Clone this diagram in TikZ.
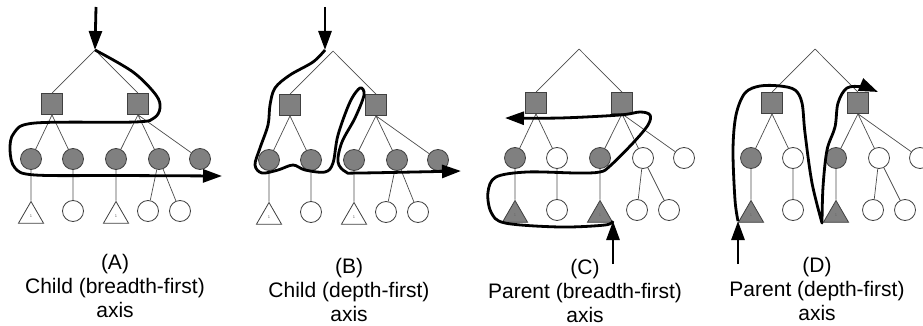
\documentclass[tikz,border=0pt]{standalone}
\usepackage{fontspec}
\setmainfont{Liberation Sans}
\usetikzlibrary{arrows.meta,shapes.geometric}

\tikzset{
  sq/.style={rectangle, draw=black!75, line width=0.8pt, fill=black!50, minimum size=21pt, inner sep=0pt},
  gc/.style={circle, draw=black!75, line width=0.8pt, fill=black!50, minimum size=21pt, inner sep=0pt},
  wc/.style={circle, draw=black!75, line width=0.8pt, fill=white, minimum size=21pt, inner sep=0pt},
  gt/.style={regular polygon, regular polygon sides=3, draw=black!75, line width=0.8pt, fill=black!50,
             minimum size=29pt, inner sep=0pt, text=black!60, font=\fontsize{4}{4}\selectfont},
  wt/.style={gt, fill=white},
  edge/.style={draw=black!70, line width=0.7pt},
  walk/.style={line width=2.8pt, line join=round, -{Triangle[length=19pt,width=13pt]}},
  axislabel/.style={align=center, font=\fontsize{21}{24}\selectfont}
}

% #1 prefix, (#2,#3) root, #4 circles 2,4,5, #5 leaf triangles, #6 x of leaf 4
\newcommand{\drawtree}[6]{%
  \begin{scope}[shift={(#2,#3)}]
    \coordinate (#1r) at (0,0);
    \node[sq] (#1s1) at (-43,54) {};
    \node[sq] (#1s2) at (43,54) {};
    \node[gc] (#1c1) at (-64,109) {};
    \node[#4] (#1c2) at (-22,109) {};
    \node[gc] (#1c3) at (21,109) {};
    \node[#4] (#1c4) at (64,109) {};
    \node[#4] (#1c5) at (105,109) {};
    \node[#5] (#1l1) at (-64,166) {1};
    \node[wc] (#1l2) at (-22,161) {};
    \node[#5] (#1l3) at (21,166) {1};
    \node[wc] (#1l4) at (#6,161) {};
    \node[wc] (#1l5) at ({#6+32},161) {};
    \draw[edge] (#1r) -- (#1s1.north) (#1r) -- (#1s2.north)
      (#1s1.south) -- (#1c1) (#1s1.south) -- (#1c2)
      (#1s2.south) -- (#1c3) (#1s2.south) -- (#1c4) (#1s2.south) -- (#1c5)
      (#1c1) -- (#1l1.north) (#1c2) -- (#1l2) (#1c3) -- (#1l3.north)
      (#1c4) -- (#1l4) (#1c4) -- (#1l5);
  \end{scope}}

\begin{document}
\begin{tikzpicture}[x=1pt, y=-1pt]
  \useasboundingbox (0,0) rectangle (923,326);

  % Trees
  \drawtree{a}{95}{50}{gc}{wt}{53}
  \drawtree{b}{333}{51}{gc}{wt}{53}
  \drawtree{c}{579}{49}{wc}{gt}{58}
  \drawtree{d}{815}{49}{wc}{gt}{58}

  % Entry points
  \coordinate (aIn) at (96,7);
  \coordinate (bIn) at (325,7);
  \coordinate (bTop) at (325,50);
  \coordinate (cIn) at (613,264);
  \coordinate (cBot) at (613,221);
  \coordinate (dIn) at (738,264);
  \coordinate (dBot) at (738,221);

  \draw[walk] (aIn) -- (ar);
  \draw[walk] (bIn) -- (bTop);
  \draw[walk] (cIn) -- (cBot);
  \draw[walk] (dIn) -- (dBot);

  % (A) child, breadth-first
  \draw[walk] plot[smooth, tension=0.55] coordinates {(ar) (133,72) (156,95) (160,108)
    (154,118) (135,122) (35,123) (14,133) (10,150) (15,168) (35,175) (120,175.5) (222,176)};

  % (B) child, depth-first
  \draw[walk] plot[smooth, tension=0.55] coordinates {(bTop) (313,62) (290,75) (275,88)
    (270,105) (268,125) (260,148) (255,165) (262,173) (278,170) (293,165) (305,170)
    (325,172) (333,163) (338,135) (350,102) (360,88) (364,95) (355,118) (342,142)
    (338,162) (346,172) (360,173) (461,171)};

  % (C) parent, breadth-first
  \draw[walk] plot[smooth, tension=0.55] coordinates {(cBot) (605,225) (560,227) (505,223)
    (491,212) (488,192) (496,177) (527,172) (577,173) (600,172) (610,166) (633,143)
    (648,125) (650,115) (640,112) (620,115) (560,118) (505,118)};

  % (D) parent, depth-first
  \draw[walk] plot[smooth, tension=0.55] coordinates {(dBot) (735,200) (733,150) (736,115)
    (745,93) (760,86) (780,86) (795,90) (802,103) (805,133) (812,183) (822,223)}
    -- plot[smooth, tension=0.55] coordinates {(822,223) (823,187) (827,150) (835,127)
    (838,103) (847,88) (863,87) (878,92)};

  % Labels
  \node[axislabel] (aLab) at (115,286) {(A)\\Child (breadth-first)\\axis};
  \node[axislabel] (bLab) at (349,290) {(B)\\Child (depth-first)\\axis};
  \node[axislabel] (cLab) at (585,291) {(C)\\Parent (breadth-first)\\axis};
  \node[axislabel] (dLab) at (817,289) {(D)\\Parent (depth-first)\\axis};
\end{tikzpicture}
\end{document}
